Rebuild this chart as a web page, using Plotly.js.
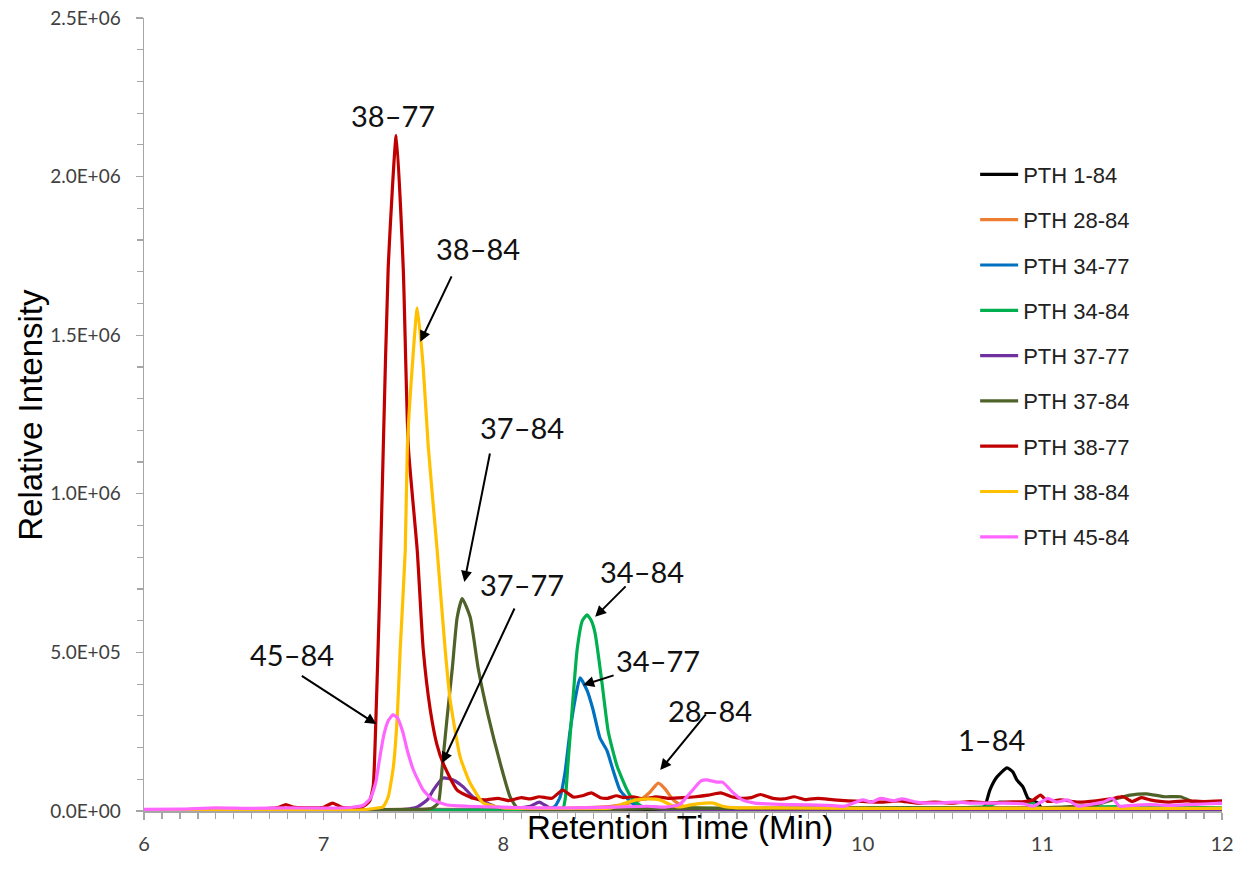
<!DOCTYPE html>
<html>
<head>
<meta charset="utf-8">
<script src="https://cdn.plot.ly/plotly-3.0.1.min.js"></script>
<style>
html,body{margin:0;padding:0;background:#fff;}
#chart{width:1248px;height:876px;}
</style>
</head>
<body>
<div id="chart"></div>
<script>
// ---- Data ----
const seriesNames = ["PTH 1-84","PTH 28-84","PTH 34-77","PTH 34-84","PTH 37-77","PTH 37-84","PTH 38-77","PTH 38-84","PTH 45-84"];

const pth1_84_x = [6, 6.5, 7, 7.5, 8, 8.5, 9, 9.5, 10, 10.5, 10.65, 10.68, 10.708, 10.747, 10.803, 10.836, 10.858, 10.892, 10.92, 10.947, 10.975, 11.0, 11.5, 12];
const pth1_84_y = [2000, 2000, 2000, 3000, 2000, 3000, 2000, 3000, 2000, 3000, 5000, 15000, 66000, 107000, 136000, 123000, 98000, 76000, 40000, 32000, 25000, 6000, 5000, 5000];

const pth28_84_x = [6, 7, 7.5, 8, 8.3, 8.6, 8.7, 8.761, 8.817, 8.862, 8.9, 8.945, 9.0, 9.1, 9.5, 10, 10.5, 11, 11.1, 11.15, 11.2, 11.5, 12];
const pth28_84_y = [3000, 4000, 5000, 5000, 8000, 15000, 25000, 35000, 60000, 88000, 70000, 35000, 15000, 10000, 8000, 10000, 8000, 10000, 4000, 2000, 6000, 8000, 8000];

const pth34_77_x = [6, 7, 7.5, 8, 8.2, 8.25, 8.288, 8.316, 8.343, 8.371, 8.399, 8.427, 8.466, 8.499, 8.538, 8.577, 8.61, 8.649, 8.689, 8.73, 8.8, 9, 9.5, 10, 11, 12];
const pth34_77_y = [2000, 2000, 3000, 3000, 5000, 6000, 15000, 44000, 120000, 250000, 350000, 420000, 380000, 320000, 230000, 190000, 130000, 66000, 40000, 20000, 10000, 8000, 5000, 5000, 5000, 5000];

const pth34_84_x = [6, 7, 7.5, 8, 8.25, 8.33, 8.345, 8.36, 8.383, 8.411, 8.44, 8.466, 8.49, 8.511, 8.55, 8.584, 8.634, 8.689, 8.722, 8.78, 8.9, 9.2, 9.5, 10, 10.5, 10.7, 10.76, 10.85, 10.95, 11.0, 11.1, 11.5, 12];
const pth34_84_y = [1000, 1000, 2000, 2000, 3000, 5000, 40000, 150000, 320000, 510000, 600000, 618000, 600000, 560000, 400000, 250000, 140000, 66000, 35000, 12000, 10000, 8000, 8000, 10000, 10000, 15000, 28000, 25000, 25000, 3000, 10000, 15000, 10000];

const pth37_77_x = [6, 7, 7.45, 7.521, 7.577, 7.61, 7.665, 7.721, 7.777, 7.832, 7.91, 7.966, 8.05, 8.15, 8.2, 8.25, 8.3, 8.6, 8.8, 8.95, 9.05, 9.2, 9.47, 9.6, 10, 11, 12];
const pth37_77_y = [2000, 3000, 5000, 13000, 35000, 66000, 104000, 98000, 76000, 44000, 25000, 12000, 8000, 15000, 28000, 12000, 5000, 5000, 8000, 3000, 2000, 5000, 3000, 2000, 3000, 3000, 3000];

const pth37_84_x = [6, 7, 7.5, 7.6, 7.638, 7.66, 7.688, 7.716, 7.743, 7.771, 7.816, 7.86, 7.916, 7.983, 8.038, 8.077, 8.15, 8.5, 9, 9.5, 10, 10.5, 11, 11.3, 11.42, 11.49, 11.58, 11.68, 11.77, 11.84, 11.92, 12];
const pth37_84_y = [2000, 3000, 5000, 8000, 25000, 140000, 300000, 450000, 610000, 670000, 610000, 450000, 300000, 150000, 44000, 10000, 5000, 5000, 8000, 8000, 10000, 10000, 10000, 20000, 40000, 50000, 54000, 45000, 45000, 28000, 25000, 25000];

const pth38_77_x = [6, 6.3, 6.6, 6.7, 6.75, 6.79, 6.83, 6.9, 7.0, 7.05, 7.1, 7.15, 7.22, 7.255, 7.276, 7.29, 7.31, 7.332, 7.359, 7.404, 7.443, 7.471, 7.521, 7.554, 7.593, 7.63, 7.665, 7.743, 7.832, 7.9, 7.97, 8.03, 8.1, 8.15, 8.2, 8.27, 8.33, 8.39, 8.44, 8.49, 8.54, 8.58, 8.63, 8.67, 8.72, 8.78, 8.85, 8.92, 9.0, 9.07, 9.14, 9.21, 9.27, 9.32, 9.38, 9.43, 9.5, 9.56, 9.62, 9.68, 9.75, 9.84, 9.92, 10.0, 10.1, 10.2, 10.3, 10.4, 10.5, 10.6, 10.7, 10.8, 10.9, 10.95, 10.99, 11.03, 11.1, 11.2, 11.3, 11.38, 11.45, 11.5, 11.55, 11.6, 11.7, 11.8, 11.9, 12];
const pth38_77_y = [3000, 3000, 5000, 8000, 12000, 20000, 12000, 10000, 12000, 25000, 12000, 10000, 15000, 30000, 80000, 277000, 650000, 1150000, 1710000, 2130000, 1710000, 1150000, 820000, 510000, 320000, 210000, 150000, 66000, 40000, 35000, 40000, 33000, 42000, 38000, 45000, 40000, 66000, 44000, 48000, 57000, 42000, 40000, 48000, 42000, 45000, 38000, 45000, 40000, 42000, 45000, 50000, 57000, 45000, 40000, 42000, 52000, 40000, 38000, 45000, 36000, 40000, 35000, 32000, 30000, 28000, 32000, 25000, 28000, 25000, 30000, 25000, 28000, 30000, 35000, 50000, 30000, 35000, 28000, 32000, 38000, 45000, 30000, 42000, 35000, 28000, 32000, 30000, 32000];

const pth38_84_x = [6, 6.5, 7, 7.2, 7.28, 7.33, 7.359, 7.388, 7.41, 7.426, 7.454, 7.466, 7.493, 7.521, 7.554, 7.582, 7.632, 7.676, 7.704, 7.76, 7.815, 7.888, 7.95, 8.0, 8.2, 8.4, 8.6, 8.68, 8.74, 8.8, 8.87, 8.93, 8.98, 9.05, 9.12, 9.17, 9.22, 9.3, 9.5, 10, 10.5, 11, 11.5, 12];
const pth38_84_y = [2000, 2000, 2000, 3000, 8000, 13000, 44000, 140000, 300000, 510000, 820000, 1150000, 1400000, 1586000, 1400000, 1150000, 820000, 510000, 350000, 170000, 88000, 25000, 15000, 10000, 8000, 8000, 10000, 25000, 35000, 38000, 35000, 20000, 13000, 20000, 25000, 25000, 15000, 10000, 10000, 8000, 8000, 8000, 8000, 8000];

const pth45_84_x = [6, 6.2, 6.4, 6.6, 6.8, 7.0, 7.15, 7.22, 7.26, 7.29, 7.31, 7.335, 7.36, 7.385, 7.41, 7.44, 7.466, 7.499, 7.554, 7.61, 7.688, 7.8, 8.0, 8.2, 8.4, 8.6, 8.8, 8.9, 8.98, 9.04, 9.1, 9.13, 9.19, 9.22, 9.28, 9.33, 9.4, 9.6, 9.8, 9.9, 10.0, 10.05, 10.1, 10.17, 10.22, 10.3, 10.4, 10.52, 10.6, 10.7, 10.8, 10.9, 10.95, 11.0, 11.03, 11.08, 11.14, 11.2, 11.28, 11.34, 11.39, 11.43, 11.5, 11.6, 11.7, 11.8, 11.9, 12];
const pth45_84_y = [5000, 6000, 10000, 8000, 10000, 9000, 11000, 18000, 40000, 90000, 160000, 240000, 285000, 303000, 295000, 250000, 190000, 130000, 66000, 35000, 19000, 15000, 12000, 10000, 10000, 12000, 15000, 12000, 20000, 57000, 95000, 98000, 91000, 91000, 57000, 35000, 25000, 20000, 18000, 15000, 35000, 28000, 40000, 32000, 38000, 28000, 25000, 28000, 25000, 25000, 25000, 22000, 15000, 30000, 40000, 28000, 35000, 15000, 22000, 28000, 40000, 15000, 18000, 20000, 18000, 20000, 22000, 25000];

const seriesX = [pth1_84_x, pth28_84_x, pth34_77_x, pth34_84_x, pth37_77_x, pth37_84_x, pth38_77_x, pth38_84_x, pth45_84_x];
const seriesY = [pth1_84_y, pth28_84_y, pth34_77_y, pth34_84_y, pth37_77_y, pth37_84_y, pth38_77_y, pth38_84_y, pth45_84_y];
const seriesColors = ["#000000","#ED7D31","#0070C0","#00B050","#7030A0","#4F6228","#C00000","#FFC000","#FF66FF"];

const yTickVals = [0, 500000, 1000000, 1500000, 2000000, 2500000];
const yTickText = ["0.0E+00","5.0E+05","1.0E+06","1.5E+06","2.0E+06","2.5E+06"];
const xTickVals = [6, 7, 8, 9, 10, 11, 12];
const xTickText = ["6","7","8","","10","11","12"]; // "9" is hidden behind the axis title in the reference

const peakLabels = ["38–77","38–84","37–84","37–77","34–84","34–77","28–84","45–84","1–84"];

// ---- Build ----
const traces = seriesNames.map((n, i) => ({
  type: "scatter", mode: "lines", name: n,
  x: seriesX[i], y: seriesY[i],
  legendgroup: "g" + i,
  line: {color: seriesColors[i], width: 3.2, shape: "spline", smoothing: 0.5}
}));

const labelPos = [
  {x: 7.388, y: 2194000},
  {x: 7.860, y: 1772000, tail: [7.716, 1690000], head: [7.538, 1479000]},
  {x: 8.105, y: 1208000, tail: [7.927, 1132000], head: [7.783, 722000]},
  {x: 8.105, y: 713000, tail: [8.066, 643000], head: [7.660, 151000]},
  {x: 8.772, y: 754000, tail: [8.689, 713000], head: [8.511, 612000]},
  {x: 8.862, y: 476000, tail: [8.622, 429000], head: [8.444, 397000]},
  {x: 9.150, y: 318000, tail: [9.134, 309000], head: [8.873, 129000]},
  {x: 6.826, y: 492000, tail: [6.870, 429000], head: [7.293, 274000]},
  {x: 10.719, y: 224000}
];

const annotations = [];
peakLabels.forEach((t, i) => {
  const p = labelPos[i];
  annotations.push({x: p.x, y: p.y, xref: "x", yref: "y", text: t, showarrow: false,
    font: {family: "Lato, 'Open Sans', sans-serif", size: 29, color: "#111"}});
});
peakLabels.forEach((t, i) => {
  const p = labelPos[i];
  if (!p.head) return;
  annotations.push({x: p.head[0], y: p.head[1], xref: "x", yref: "y",
    ax: p.tail[0], ay: p.tail[1], axref: "x", ayref: "y", text: "",
    showarrow: true, arrowhead: 2, arrowsize: 1.1, arrowwidth: 2, arrowcolor: "#000", standoff: 0, startstandoff: 0});
});
// axis titles placed as in the reference
annotations.push({xref: "paper", yref: "paper", x: 0.4975, y: -0.0214, yanchor: "middle", xanchor: "center",
  text: "Retention Time (Min)", showarrow: false,
  font: {family: "'Liberation Sans', Arial, sans-serif", size: 33, color: "#000"}});
annotations.push({xref: "paper", yref: "paper", x: -0.105, y: 0.4994, yanchor: "middle", xanchor: "center",
  text: "Relative Intensity", showarrow: false, textangle: -90,
  font: {family: "'Liberation Sans', Arial, sans-serif", size: 33, color: "#000"}});

const axisGray = "#A6A6A6";
const layout = {
  width: 1248, height: 876,
  margin: {l: 143.5, r: 26, t: 18, b: 65},
  paper_bgcolor: "#fff", plot_bgcolor: "#fff",
  showlegend: true,
  legend: {x: 0.771, y: 0.829, xanchor: "left", yanchor: "top", tracegroupgap: 13.7, itemwidth: 38,
    font: {family: "'Liberation Sans', Arial, sans-serif", size: 22, color: "#222"},
    bgcolor: "rgba(0,0,0,0)"},
  xaxis: {range: [6, 12], showgrid: false, zeroline: false, showline: true, linecolor: axisGray, linewidth: 1.5,
    ticks: "outside", ticklen: 7, tickcolor: axisGray, tickwidth: 1.3,
    tickvals: xTickVals, ticktext: xTickText, ticklabelstandoff: 7,
    tickfont: {family: "Lato, 'Open Sans', sans-serif", size: 20, color: "#404040"},
    minor: {dtick: 0.1, ticks: "outside", ticklen: 6, tickcolor: axisGray, tickwidth: 1.2, showgrid: false}},
  yaxis: {range: [0, 2500000], showgrid: false, zeroline: false, showline: true, linecolor: axisGray, linewidth: 1.5,
    ticks: "outside", ticklen: 7, tickcolor: axisGray, tickwidth: 1.3,
    tickvals: yTickVals, ticktext: yTickText, ticklabelstandoff: 11,
    tickfont: {family: "Lato, 'Open Sans', sans-serif", size: 19, color: "#404040"},
    minor: {dtick: 100000, ticks: "outside", ticklen: 6, tickcolor: axisGray, tickwidth: 1.2, showgrid: false}},
  annotations: annotations
};

Plotly.newPlot("chart", traces, layout, {displayModeBar: false, staticPlot: true});
</script>
</body>
</html>
